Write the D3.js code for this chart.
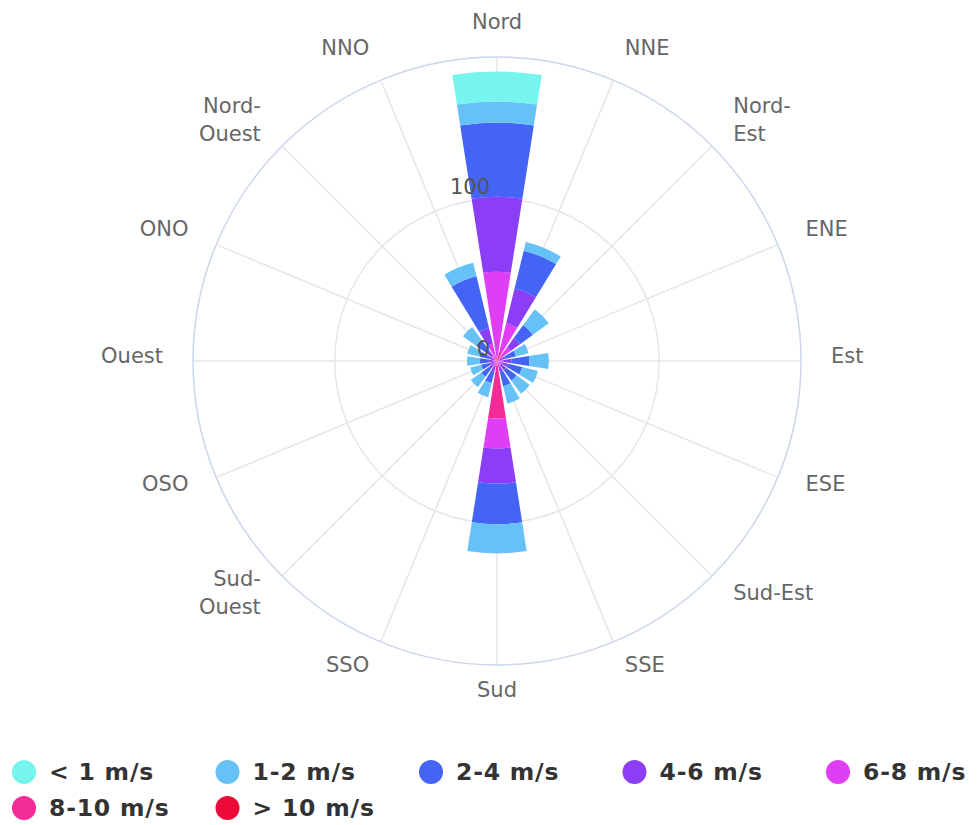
<!DOCTYPE html>
<html>
<head>
<meta charset="utf-8">
<script src="https://cdn.jsdelivr.net/npm/d3@7"></script>
<style>
body { margin: 0; background: #fff; }
text { font-family: "DejaVu Sans", sans-serif; }
</style>
</head>
<body>
<svg id="chart" width="979" height="825"></svg>
<script>
// directions, clockwise from north
var directions = ["Nord","NNE","Nord-Est","ENE","Est","ESE","Sud-Est","SSE","Sud","SSO","Sud-Ouest","OSO","Ouest","ONO","Nord-Ouest","NNO"]
var dirLabels = [["Nord"],["NNE"],["Nord-","Est"],["ENE"],["Est"],["ESE"],["Sud-Est"],["SSE"],["Sud"],["SSO"],["Sud-","Ouest"],["OSO"],["Ouest"],["ONO"],["Nord-","Ouest"],["NNO"]]

var speedNames = ["< 1 m/s","1-2 m/s","2-4 m/s","4-6 m/s","6-8 m/s","8-10 m/s","> 10 m/s"]
var speedColors = ["#76f4ee","#66c1f6","#4464f6","#8b3ef6","#e03ef4","#f22b96","#ec0a3a"]

// frequency per direction, one array per speed class
var lt1   = [18.5,0,0,0,0,0,0,0,0,0,0,0,0,0,0,0]
var s1_2  = [13,5.5,12,8,12,10,10,11,18,9,8,7,8,8,10,8.6]
var s2_4  = [45.7,24,10,7,11,9,8,9,25,7,6,5,5,6,8,32.7]
var s4_6  = [46.3,22,7,3,5,4,4,4,21.6,4,3,3,3,3,4,10]
var s6_8  = [52,18,7,2,3,2,2,2,18.5,2,2,1.5,2,1.5,3,8]
var s8_10 = [3,6,3.5,0,1,1,1,1,34,1,1,0.5,0.5,0.5,1,3]
var gt10  = [0,0,0,0,0,0,0,0,1.5,0,0,0,0,0,0,0]

var yTicks = [0,100]

var series = [lt1,s1_2,s2_4,s4_6,s6_8,s8_10,gt10]

var svg = d3.select("#chart")
var cx = 497, cy = 361, R = 304

// rows for the stack, innermost layer is the strongest wind
var table = directions.map(function(d,i){
    var row = {dir:d, idx:i}
    speedNames.forEach(function(s,k){ row[s] = series[k][i] })
    return row
})
var keys = speedNames.slice().reverse()
var stacked = d3.stack().keys(keys)(table)

var totals = table.map(function(r){ return d3.sum(speedNames, function(s){ return r[s] }) })
var yMax = d3.max(totals)*1.05

var r = d3.scaleLinear().domain([0,yMax]).range([0,R])
var step = 2*Math.PI/directions.length
var a = d3.scaleLinear().domain([0,directions.length]).range([0,2*Math.PI])
var half = step*0.79/2

var g = svg.append("g").attr("transform","translate("+cx+","+cy+")")

// grid
g.selectAll("line.spoke").data(directions).enter().append("line")
    .attr("x1",0).attr("y1",0)
    .attr("x2",function(d,i){ return R*Math.sin(a(i)) })
    .attr("y2",function(d,i){ return -R*Math.cos(a(i)) })
    .attr("stroke","#e6e6e6").attr("stroke-width",1.5)

g.selectAll("circle.grid").data(yTicks.filter(function(t){ return t>0 })).enter().append("circle")
    .attr("r",function(d){ return r(d) })
    .attr("fill","none").attr("stroke","#e6e6e6").attr("stroke-width",1.5)

// bars
var arc = d3.arc()
g.selectAll("g.layer").data(stacked).enter().append("g")
    .attr("fill",function(d){ return speedColors[speedNames.indexOf(d.key)] })
    .selectAll("path").data(function(d){ return d }).enter().append("path")
    .attr("d",function(d,i){
        return arc({innerRadius:r(d[0]), outerRadius:r(d[1]),
            startAngle:a(i)-half, endAngle:a(i)+half})
    })

g.append("circle").attr("r",R).attr("fill","none")
    .attr("stroke","#ccd6eb").attr("stroke-width",1.5)

// y labels
g.selectAll("text.ytick").data(yTicks).enter().append("text")
    .attr("x",-7).attr("y",function(d){ return -r(d)-5 })
    .attr("text-anchor","end")
    .attr("font-size",21).attr("fill","#555")
    .text(function(d){ return d })

// direction labels
var lr = R+30, lh = 28
dirLabels.forEach(function(lines,i){
    var ang = a(i)
    var deg = i*360/directions.length
    var anchor = (deg==0||deg==180) ? "middle" : (deg<180 ? "start" : "end")
    var x = lr*Math.sin(ang), y = -lr*Math.cos(ang) - 5
    var t = g.append("text").attr("text-anchor",anchor)
        .attr("font-size",21).attr("fill","#666")
    lines.forEach(function(l,k){
        t.append("tspan").attr("x",x)
            .attr("y",y + (k-(lines.length-1)/2)*lh)
            .attr("dy","0.35em").text(l)
    })
})

// legend
var leg = svg.append("g")
speedNames.forEach(function(s,k){
    var lx = 24 + (k%5)*203.5, ly = 772 + Math.floor(k/5)*36
    leg.append("circle").attr("cx",lx).attr("cy",ly).attr("r",12).attr("fill",speedColors[k])
    leg.append("text").attr("x",lx+25).attr("y",ly).attr("dy","0.36em")
        .attr("font-size",23.5).attr("font-weight","bold").attr("letter-spacing",0.8)
        .attr("fill","#333").text(s)
})
</script>
</body>
</html>
